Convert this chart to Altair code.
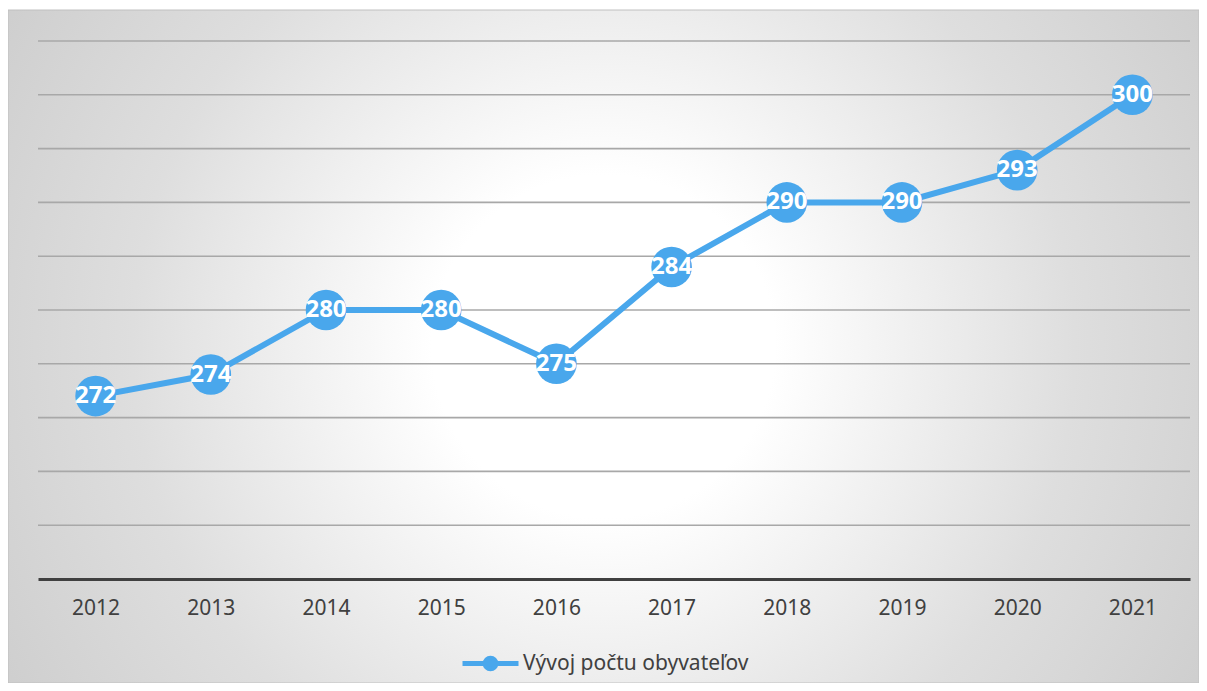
import altair as alt
import pandas as pd

years = ["2012", "2013", "2014", "2015", "2016", "2017", "2018", "2019", "2020", "2021"]
values = [272, 274, 280, 280, 275, 284, 290, 290, 293, 300]
grid_values = [260, 265, 270, 275, 280, 285, 290, 295, 300, 305]
series_name = "Vývoj počtu obyvateľov"

BLUE = "#49a7ec"
TEXT = "#404040"
FONT = "Noto Sans"

df = pd.DataFrame({"year": years, "value": values, "series": [series_name] * len(years)})
grid_df = pd.DataFrame({"v": grid_values})

W, H = 1152, 538
PAD = {"left": 30, "top": 33, "right": 9, "bottom": 104}

x_enc = alt.X("year:O", scale=alt.Scale(type="point", padding=0.5),
              axis=alt.Axis(title=None, labelAngle=0, labelFont=FONT, labelFontSize=21,
                            labelColor=TEXT, labelPadding=18, ticks=False, domainColor=TEXT,
                            domainWidth=3, grid=False, zindex=1))
y_scale = alt.Scale(domain=[255, 305], nice=False, zero=False)

bg = alt.Chart(pd.DataFrame({"a": [0]})).mark_rect(
    fill={
        "gradient": "radial",
        "x1": 0.5, "y1": 0.5, "r1": 0,
        "x2": 0.5, "y2": 0.5, "r2": 0.72,
        "stops": [
            {"offset": 0.0, "color": "#ffffff"},
            {"offset": 0.2, "color": "#ffffff"},
            {"offset": 0.55, "color": "#dedede"},
            {"offset": 1.0, "color": "#c2c2c2"},
        ],
    },
    stroke="#c0c0c0", strokeWidth=1,
).encode(
    x=alt.value(-PAD["left"]), x2=alt.value(W + PAD["right"]),
    y=alt.value(-31), y2=alt.value(H + PAD["bottom"]),
)

grid = alt.Chart(grid_df).mark_rule(color="#a8a8a8", strokeWidth=1.6).encode(
    y=alt.Y("v:Q", scale=y_scale, axis=None),
    x=alt.value(0), x2=alt.value(W),
)

legend_path = "M-1,0L1,0M-0.19,0A0.19,0.19,0,1,1,0.19,0A0.19,0.19,0,1,1,-0.19,0Z"

line = alt.Chart(df).mark_line(strokeWidth=6).encode(
    x=x_enc,
    y=alt.Y("value:Q", scale=y_scale, axis=None),
    color=alt.Color("series:N", scale=alt.Scale(range=[BLUE]),
                    legend=alt.Legend(title=None, orient="none", legendX=422, legendY=592,
                                      labelFont=FONT, labelFontSize=21, labelColor=TEXT,
                                      labelOffset=2, labelLimit=0, symbolType=legend_path,
                                      symbolSize=3136, symbolStrokeWidth=5,
                                      symbolFillColor=BLUE, symbolStrokeColor=BLUE, padding=0)),
)

points = alt.Chart(df).mark_circle(size=1650, opacity=1, color=BLUE).encode(
    x=x_enc, y=alt.Y("value:Q", scale=y_scale, axis=None),
)

labels = alt.Chart(df).mark_text(color="white", font=FONT, fontWeight="bold", fontSize=24,
                                 baseline="middle", align="center").encode(
    x=x_enc, y=alt.Y("value:Q", scale=y_scale, axis=None), text="value:Q",
)

chart = alt.layer(bg, grid, line, points, labels).properties(
    width=W, height=H, autosize=alt.AutoSizeParams(type="none"), padding=PAD,
).configure_view(stroke=None).configure(background="white")

chart.save("out.html", embed_options={"renderer": "svg", "actions": False})
